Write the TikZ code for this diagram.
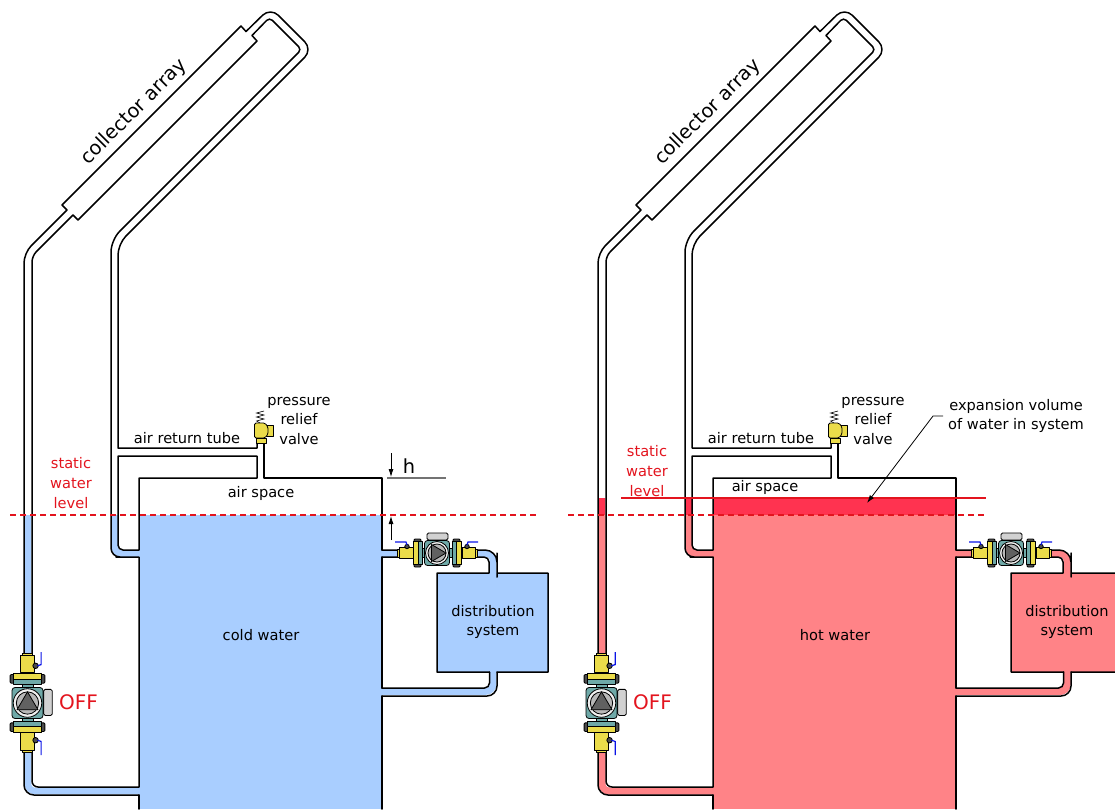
\documentclass[tikz,border=0pt]{standalone}
\usepackage{fontspec}
\usetikzlibrary{arrows.meta}
\setmainfont{DejaVu Sans}
\definecolor{coldwater}{HTML}{A9CEFF}
\definecolor{hotwater}{HTML}{FF8387}
\definecolor{hotband}{HTML}{FF3350}
\definecolor{levelred}{HTML}{E3141E}
\definecolor{brass}{HTML}{EBDC4A}
\definecolor{pumpteal}{HTML}{6FA9A8}
\definecolor{handleblue}{HTML}{0A14E6}
\tikzset{
  wall/.style     ={draw=black, line width=1.5pt, line join=round, line cap=round},
  waterline/.style={line width=6.5pt, rounded corners=7pt},
  part/.style     ={draw=black, line width=0.8pt, line join=round},
  handle/.style   ={draw=handleblue, line width=1.2pt},
  lbl/.style      ={align=center, inner sep=0pt, text=black, font=\fontsize{14.6}{19.8}\selectfont},
  redlbl/.style   ={lbl, text=levelred},
  biglbl/.style   ={lbl, font=\fontsize{19.4}{24}\selectfont},
  staticlevel/.style={draw=levelred, line width=1.2pt, dash pattern=on 6pt off 4pt},
  fullevel/.style ={draw=levelred, line width=1.3pt},
  dimarrow/.style ={-{Latex[length=8pt,width=5pt]}, draw=black, line width=0.8pt}
}
\newcommand{\plantfill}[2]{%
  \fill[#1] (139,#2) rectangle (382,809);
  \fill[#1] (437,573) rectangle (548,672);
  \draw[waterline,#1] (28,#2) -- (28,791) -- (139,791);
  \draw[waterline,#1] (114.5,#2) -- (114.5,553.5) -- (139,553.5);
  \draw[waterline,#1] (382,553.5) -- (493,553.5) -- (493,573);
  \draw[waterline,#1] (382,691.5) -- (493,691.5) -- (493,672);
}
\newcommand{\plantwalls}{%
  \draw[wall,rounded corners=10pt] (139,795) -- (24,795) -- (24,253) -- (50,227) [sharp corners] -- (67,210) -- (62,205) -- (241,26) -- (246,31.5) [rounded corners=11pt] -- (270.5,7.5) -- (312.5,49.5) -- (118,244) -- (118,300) [sharp corners] -- (118,448) -- (257,448) -- (257,442);
  \draw[wall,rounded corners=6pt] (139,787) -- (32,787) -- (32,256) -- (55,233) [sharp corners] -- (73,215) -- (78,220) -- (257,41) -- (252,35.5) [rounded corners=4pt] -- (269.5,17.5) -- (301.5,49.5) -- (250,101) [rounded corners=12pt] -- (111,240) -- (111,300) [rounded corners=9pt] -- (111,557) -- (125,557) [sharp corners] -- (139,557) -- (139,787);
  \draw[wall,rounded corners=5pt] (139,550) -- (118,550) -- (118,500) [sharp corners] -- (118,456) -- (257,456) -- (257,478) -- (139,478) -- (139,550);
  \draw[wall] (139,795) -- (139,809);
  \draw[wall] (264,442) -- (264,478) -- (382,478) -- (382,550);
  \draw[wall] (382,557) -- (382,688);
  \draw[wall] (382,696) -- (382,809);
  \draw[wall,rounded corners=12pt] (382,550) -- (497,550) -- (497,565) [sharp corners] -- (497,573) -- (548,573) -- (548,672) -- (497,672);
  \draw[wall,rounded corners=5pt] (382,557) -- (489,557) -- (489,568) [sharp corners] -- (489,573) -- (437,573) -- (437,672) -- (489.5,672);
  \draw[wall,rounded corners=5pt] (382,688) -- (489.5,688) -- (489.5,672);
  \draw[wall,rounded corners=10pt] (382,696) -- (497,696) -- (497,672);
  \draw[draw=black, line width=0.6pt] (260,423) -- (256.5,421) -- (264,419) -- (256.5,417) -- (264,415) -- (256.5,413) -- (264,411);
  \draw[part,fill=brass] (264,425) rectangle (273,436);
  \draw[part,fill=brass,rounded corners=1.5pt] (254.5,423) -- (265,423) -- (268,427) -- (268,434) -- (265,438) -- (254.5,438) -- cycle;
  \draw[part,fill=brass] (256,438) rectangle (266,443);
}
\newcommand{\pumpunit}{%
  \draw[part,fill=pumpteal] (-16,-4.5) rectangle (16,4.5);
  \draw[part,fill=brass] (-40,-4) rectangle (-38,4);
  \draw[part,fill=brass] (38,-4) rectangle (40,4);
  \draw[part,fill=brass] (-38,-5.5) rectangle (-24,5.5);
  \draw[part,fill=brass] (25,-5.5) rectangle (38,5.5);
  \foreach \s in {-1,1} {
    \draw[part,fill=black!70,rounded corners=1pt] (\s*19.5-3.5,-14) rectangle (\s*19.5+3.5,-9);
    \draw[part,fill=black!70,rounded corners=1pt] (\s*19.5-3.5,14) rectangle (\s*19.5+3.5,9);
    \draw[part,fill=brass] (\s*21.5-2.5,-11.5) rectangle (\s*21.5+2.5,11.5);
    \draw[part,fill=pumpteal] (\s*17-2,-11.5) rectangle (\s*17+2,11.5);
    \draw[part,fill=black!70] (\s*30,-6.5) circle (2.2);
  }
  \draw[handle] (-42,-11) -- (-31,-11) -- (-30,-8);
  \draw[handle] (41,-11) -- (31,-11) -- (30,-8);
  \draw[part,fill=black!18,rounded corners=1.5pt] (-10,-20) rectangle (11,-13);
  \draw[part,fill=pumpteal,rounded corners=3pt] (-12.5,-12.5) rectangle (12.5,12.5);
  \draw[part,fill=black!6] (0,0) circle (11.5);
  \draw[part,fill=black!28] (0,0) circle (9);
  \draw[part,fill=black!62] (-5.5,-8.5) -- (9,0) -- (-5.5,8.5) -- cycle;
}
\newcommand{\plantlabels}{%
  \node[biglbl,rotate=45] at (134,112) {collector array};
  \node[lbl] at (299,421) {pressure\\relief\\valve};
  \node[lbl] at (187,438) {air return tube};
  \node[lbl] at (493,622) {distribution\\system};
  \node[redlbl,font=\fontsize{20}{24}\selectfont,anchor=west] at (59,702) {OFF};
  \begin{scope}[cm={0,1.24,1.24,0,(27.5,703)}] \pumpunit \end{scope}
  \begin{scope}[shift={(437,553)}] \pumpunit \end{scope}
}
\begin{document}
\begin{tikzpicture}[x=1pt,y=-1pt]
  \useasboundingbox (0,0) rectangle (1115,809);
  \plantfill{coldwater}{515}
  \plantwalls
  \plantlabels
  \node[redlbl] (coldlevel) at (71,483) {static\\water\\level};
  \node[lbl] (coldair) at (261,493) {air space};
  \node[lbl] (coldname) at (261,635) {cold water};
  \node[biglbl] (hmark) at (409,466) {h};
  \draw[draw=black!55, line width=1.2pt] (387,478) -- (446,478);
  \draw[dimarrow] (391,453) -- (391,477);
  \draw[dimarrow] (391,540) -- (391,516);
  \draw[staticlevel] (10,515) -- (537,515);
  \begin{scope}[xshift=574pt]
    \plantfill{hotband}{498}
    \plantfill{hotwater}{515}
    \plantwalls
    \plantlabels
    \node[redlbl] (hotlevel) at (73,471) {static\\water\\level};
    \node[lbl] (hotair) at (191,487) {air space};
    \node[lbl] (hotname) at (261,635) {hot water};
  \end{scope}
  \draw[staticlevel] (568,515) -- (986,515);
  \draw[fullevel] (621,498) -- (986,498);
  \node[lbl,anchor=west] (expansion) at (948,416) {expansion volume\\of water in system};
  \coordinate (bandmid) at (867,503);
  \draw[dimarrow] (expansion.west) ++(-5,0) -- ++(-10,0) -- (bandmid);
\end{tikzpicture}
\end{document}
